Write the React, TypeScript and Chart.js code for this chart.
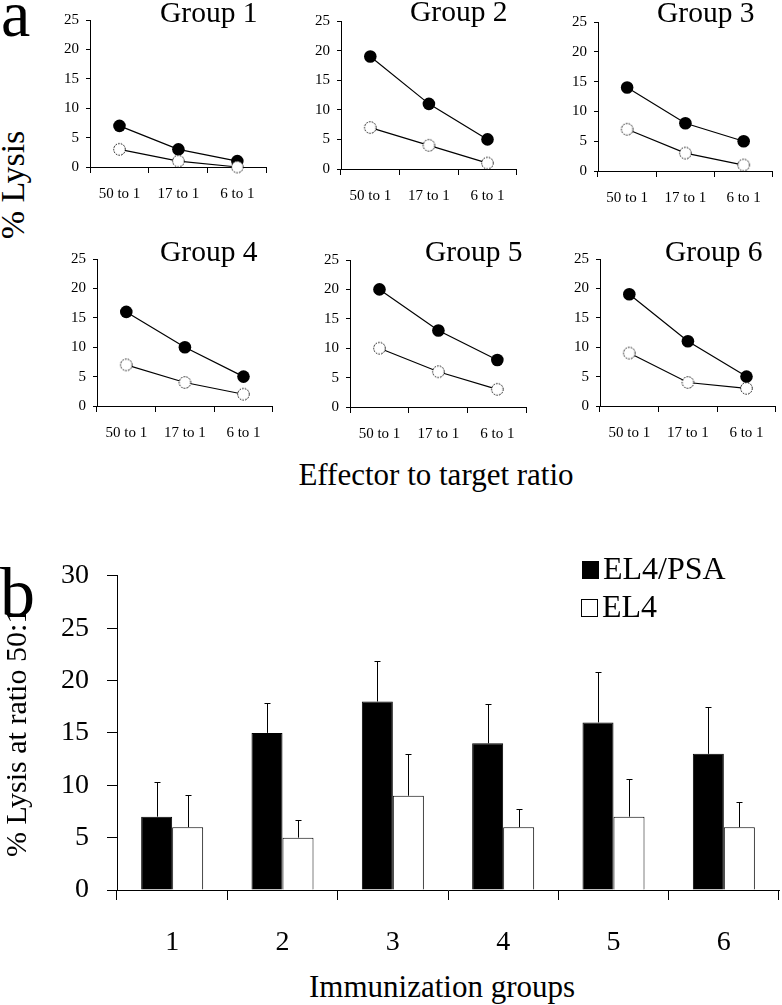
import React, { useEffect, useRef } from "react";
import { Chart, registerables } from "chart.js";

Chart.register(...registerables);

// ---------- DATA ----------
const ratioLabels = ["50 to 1", "17 to 1", "6 to 1"];
const groupNames = ["Group 1", "Group 2", "Group 3", "Group 4", "Group 5", "Group 6"];

const group1PSA = [7, 3, 1];
const group1EL4 = [3, 1, 0];
const group2PSA = [19, 11, 5];
const group2EL4 = [7, 4, 1];
const group3PSA = [14, 8, 5];
const group3EL4 = [7, 3, 1];
const group4PSA = [16, 10, 5];
const group4EL4 = [7, 4, 2];
const group5PSA = [20, 13, 8];
const group5EL4 = [10, 6, 3];
const group6PSA = [19, 11, 5];
const group6EL4 = [9, 4, 3];

const lineYTicks = [0, 5, 10, 15, 20, 25];

const barGroups = ["1", "2", "3", "4", "5", "6"];
const barPSA = [7, 15, 18, 14, 16, 13];
const barEL4 = [6, 5, 9, 6, 7, 6];
const errPSA = [3.3, 2.9, 3.9, 3.8, 4.8, 4.5];
const errEL4 = [3.1, 1.7, 4.0, 1.7, 3.6, 2.4];
const barYTicks = [0, 5, 10, 15, 20, 25, 30];

const seriesNames = ["EL4/PSA", "EL4"];

// ---------- LAYOUT ----------
const FONT = '"Liberation Serif", "Times New Roman", "DejaVu Serif", serif';

const smallPanels = [
  { psa: group1PSA, el4: group1EL4, axisX: 90, right: 272, top: 14, bottom: 166.7, tx: 160, tb: 23 },
  { psa: group2PSA, el4: group2EL4, axisX: 341, right: 522, top: 15, bottom: 169, tx: 410, tb: 22 },
  { psa: group3PSA, el4: group3EL4, axisX: 598, right: 778, top: 16, bottom: 170.7, tx: 657, tb: 23 },
  { psa: group4PSA, el4: group4EL4, axisX: 97, right: 278, top: 252.7, bottom: 405.7, tx: 160, tb: 262 },
  { psa: group5PSA, el4: group5EL4, axisX: 350, right: 532, top: 254, bottom: 407.3, tx: 425, tb: 262 },
  { psa: group6PSA, el4: group6EL4, axisX: 600, right: 781, top: 252.7, bottom: 405.7, tx: 665, tb: 262 },
];

function makeOpenPoint(): HTMLCanvasElement {
  const c = document.createElement("canvas");
  c.width = 15;
  c.height = 15;
  const g = c.getContext("2d")!;
  g.beginPath();
  g.arc(7.5, 7.5, 5.8, 0, Math.PI * 2);
  g.fillStyle = "#fff";
  g.fill();
  g.setLineDash([1.6, 1.2]);
  g.lineWidth = 1;
  g.strokeStyle = "#000";
  g.stroke();
  return c;
}

function SmallChart({ p }: { p: any }) {
  const ref = useRef<HTMLCanvasElement>(null);
  const L = 40, T = 10, B = 40, R = 2;
  const plotW = p.right - p.axisX;
  const plotH = p.bottom - p.top;
  const w = Math.round(L + plotW + R);
  const h = Math.round(T + plotH + B);
  useEffect(() => {
    const openPt = makeOpenPoint();
    const chart = new Chart(ref.current!, {
      type: "line",
      data: {
        labels: ratioLabels,
        datasets: [
          {
            label: seriesNames[1],
            data: p.el4,
            borderColor: "#000",
            borderWidth: 1.2,
            pointStyle: openPt as any,
            pointRadius: 6,
            clip: false as any,
            tension: 0,
          },
          {
            label: seriesNames[0],
            data: p.psa,
            borderColor: "#000",
            borderWidth: 1.2,
            pointStyle: "circle",
            pointRadius: 6.3,
            pointBackgroundColor: "#000",
            pointBorderColor: "#000",
            pointBorderWidth: 0,
            clip: false as any,
            tension: 0,
          },
        ],
      },
      options: {
        responsive: false,
        maintainAspectRatio: false,
        animation: false,
        layout: { padding: { top: T, right: R, left: 0, bottom: 0 } },
        plugins: { legend: { display: false }, tooltip: { enabled: false }, title: { display: false } },
        scales: {
          x: {
            type: "category",
            offset: true,
            grid: { offset: true, drawOnChartArea: false, color: "#000", tickColor: "#000", tickLength: 6, lineWidth: 1 },
            border: { color: "#000", width: 1 },
            ticks: { color: "#000", font: { family: FONT, size: 15 }, padding: 12, maxRotation: 0, autoSkip: false },
            afterFit: (s: any) => { s.height = B; },
          },
          y: {
            min: 0,
            max: 25,
            afterBuildTicks: (s: any) => { s.ticks = lineYTicks.map((v) => ({ value: v })); },
            grid: { drawOnChartArea: false, color: "#000", tickColor: "#000", tickLength: 4, lineWidth: 1 },
            border: { color: "#000", width: 1 },
            ticks: { color: "#000", font: { family: FONT, size: 15 }, padding: 7 },
            afterFit: (s: any) => { s.width = L; },
          },
        },
      },
    });
    return () => chart.destroy();
  }, []);
  return (
    <canvas
      ref={ref}
      width={w}
      height={h}
      style={{ position: "absolute", left: Math.round(p.axisX - L), top: Math.round(p.top - T), width: w, height: h }}
    />
  );
}

const errorBarPlugin = {
  id: "errorBars",
  afterDatasetsDraw(chart: any, _args: any, opts: any) {
    const ctx = chart.ctx;
    const ys = chart.scales.y;
    const ups = opts.up || [];
    chart.data.datasets.forEach((ds: any, di: number) => {
      const meta = chart.getDatasetMeta(di);
      const errs = ups[di];
      if (!errs) return;
      meta.data.forEach((bar: any, i: number) => {
        const topPx = Math.round(ys.getPixelForValue(ds.data[i] + errs[i])) + 0.5;
        const x = Math.round(bar.x) + 0.5;
        ctx.save();
        ctx.strokeStyle = "#000";
        ctx.lineWidth = 1;
        ctx.beginPath();
        ctx.moveTo(x, bar.y);
        ctx.lineTo(x, topPx);
        ctx.moveTo(x - 3, topPx);
        ctx.lineTo(x + 3, topPx);
        ctx.stroke();
        ctx.restore();
      });
    });
  },
};

function BarChart() {
  const ref = useRef<HTMLCanvasElement>(null);
  const axisX = 117, right = 779, top = 561, bottom = 890;
  const L = 117, T = 20, B = 70, R = 3;
  const w = L + (right - axisX) + R;
  const h = T + (bottom - top) + B;
  useEffect(() => {
    const chart = new Chart(ref.current!, {
      type: "bar",
      data: {
        labels: barGroups,
        datasets: [
          {
            label: seriesNames[0],
            data: barPSA,
            backgroundColor: "#000",
            borderColor: "#000",
            borderWidth: 1,
            barPercentage: 1,
            categoryPercentage: 0.562,
          },
          {
            label: seriesNames[1],
            data: barEL4,
            backgroundColor: "#fff",
            borderColor: "#000",
            borderWidth: 1,
            barPercentage: 1,
            categoryPercentage: 0.562,
          },
        ],
      },
      plugins: [errorBarPlugin],
      options: {
        responsive: false,
        maintainAspectRatio: false,
        animation: false,
        layout: { padding: { top: T, right: R, left: 0, bottom: 0 } },
        plugins: {
          legend: { display: false },
          tooltip: { enabled: false },
          errorBars: { up: [errPSA, errEL4] },
        } as any,
        scales: {
          x: {
            grid: { offset: true, drawOnChartArea: false, color: "#000", tickColor: "#000", tickLength: 10, lineWidth: 1 },
            border: { color: "#000", width: 1 },
            ticks: { color: "#000", font: { family: FONT, size: 28 }, padding: 26, maxRotation: 0 },
            afterFit: (s: any) => { s.height = B; },
          },
          y: {
            min: 0,
            max: 30,
            afterBuildTicks: (s: any) => { s.ticks = barYTicks.map((v) => ({ value: v })); },
            grid: { drawOnChartArea: false, color: "#000", tickColor: "#000", tickLength: 10, lineWidth: 1 },
            border: { color: "#000", width: 1 },
            ticks: { color: "#000", font: { family: FONT, size: 28 }, padding: 18 },
            title: {
              display: true,
              text: "% Lysis at ratio 50:1",
              color: "#000",
              font: { family: FONT, size: 30 },
              padding: { top: 0, bottom: 0 },
            },
            afterFit: (s: any) => { s.width = L; },
          },
        },
      },
    });
    return () => chart.destroy();
  }, []);
  return (
    <canvas
      ref={ref}
      width={w}
      height={h}
      style={{ position: "absolute", left: axisX - L, top: top - T, width: w, height: h }}
    />
  );
}

function Txt({ x, base, size, children, center }: any) {
  return (
    <div
      style={{
        position: "absolute",
        left: x,
        top: base - 0.8375 * size,
        fontSize: size,
        lineHeight: 1,
        fontFamily: FONT,
        whiteSpace: "nowrap",
        color: "#000",
        transform: center ? "translateX(-50%)" : undefined,
      }}
    >
      {children}
    </div>
  );
}

function VTxt({ cx, cy, size, children }: any) {
  return (
    <div
      style={{
        position: "absolute",
        left: cx,
        top: cy,
        fontSize: size,
        lineHeight: 1,
        fontFamily: FONT,
        whiteSpace: "nowrap",
        color: "#000",
        transform: "translate(-50%, -50%) rotate(-90deg)",
      }}
    >
      {children}
    </div>
  );
}

export default function App() {
  return (
    <div style={{ position: "absolute", left: 0, top: 0, width: 782, height: 1005, background: "#fff", overflow: "hidden" }}>
      {smallPanels.map((p, i) => (
        <SmallChart key={i} p={p} />
      ))}
      {smallPanels.map((p, i) => (
        <Txt key={"t" + i} x={p.tx} base={p.tb} size={29.5}>
          {groupNames[i]}
        </Txt>
      ))}
      <Txt x={1} base={36} size={66}>a</Txt>
      <VTxt cx={13} cy={185} size={34}>% Lysis</VTxt>
      <Txt x={436} base={485} size={31} center>Effector to target ratio</Txt>

      <BarChart />
      <Txt x={0} base={617} size={70}>b</Txt>
      <Txt x={442} base={997} size={31} center>Immunization groups</Txt>

      <div style={{ position: "absolute", left: 582, top: 561, width: 17, height: 18, background: "#000", boxSizing: "border-box", border: "1px solid #000" }} />
      <Txt x={603} base={579} size={32}>{seriesNames[0]}</Txt>
      <div style={{ position: "absolute", left: 581, top: 599, width: 17, height: 18, background: "#fff", boxSizing: "border-box", border: "1px solid #000" }} />
      <Txt x={602} base={617} size={32}>{seriesNames[1]}</Txt>
    </div>
  );
}
